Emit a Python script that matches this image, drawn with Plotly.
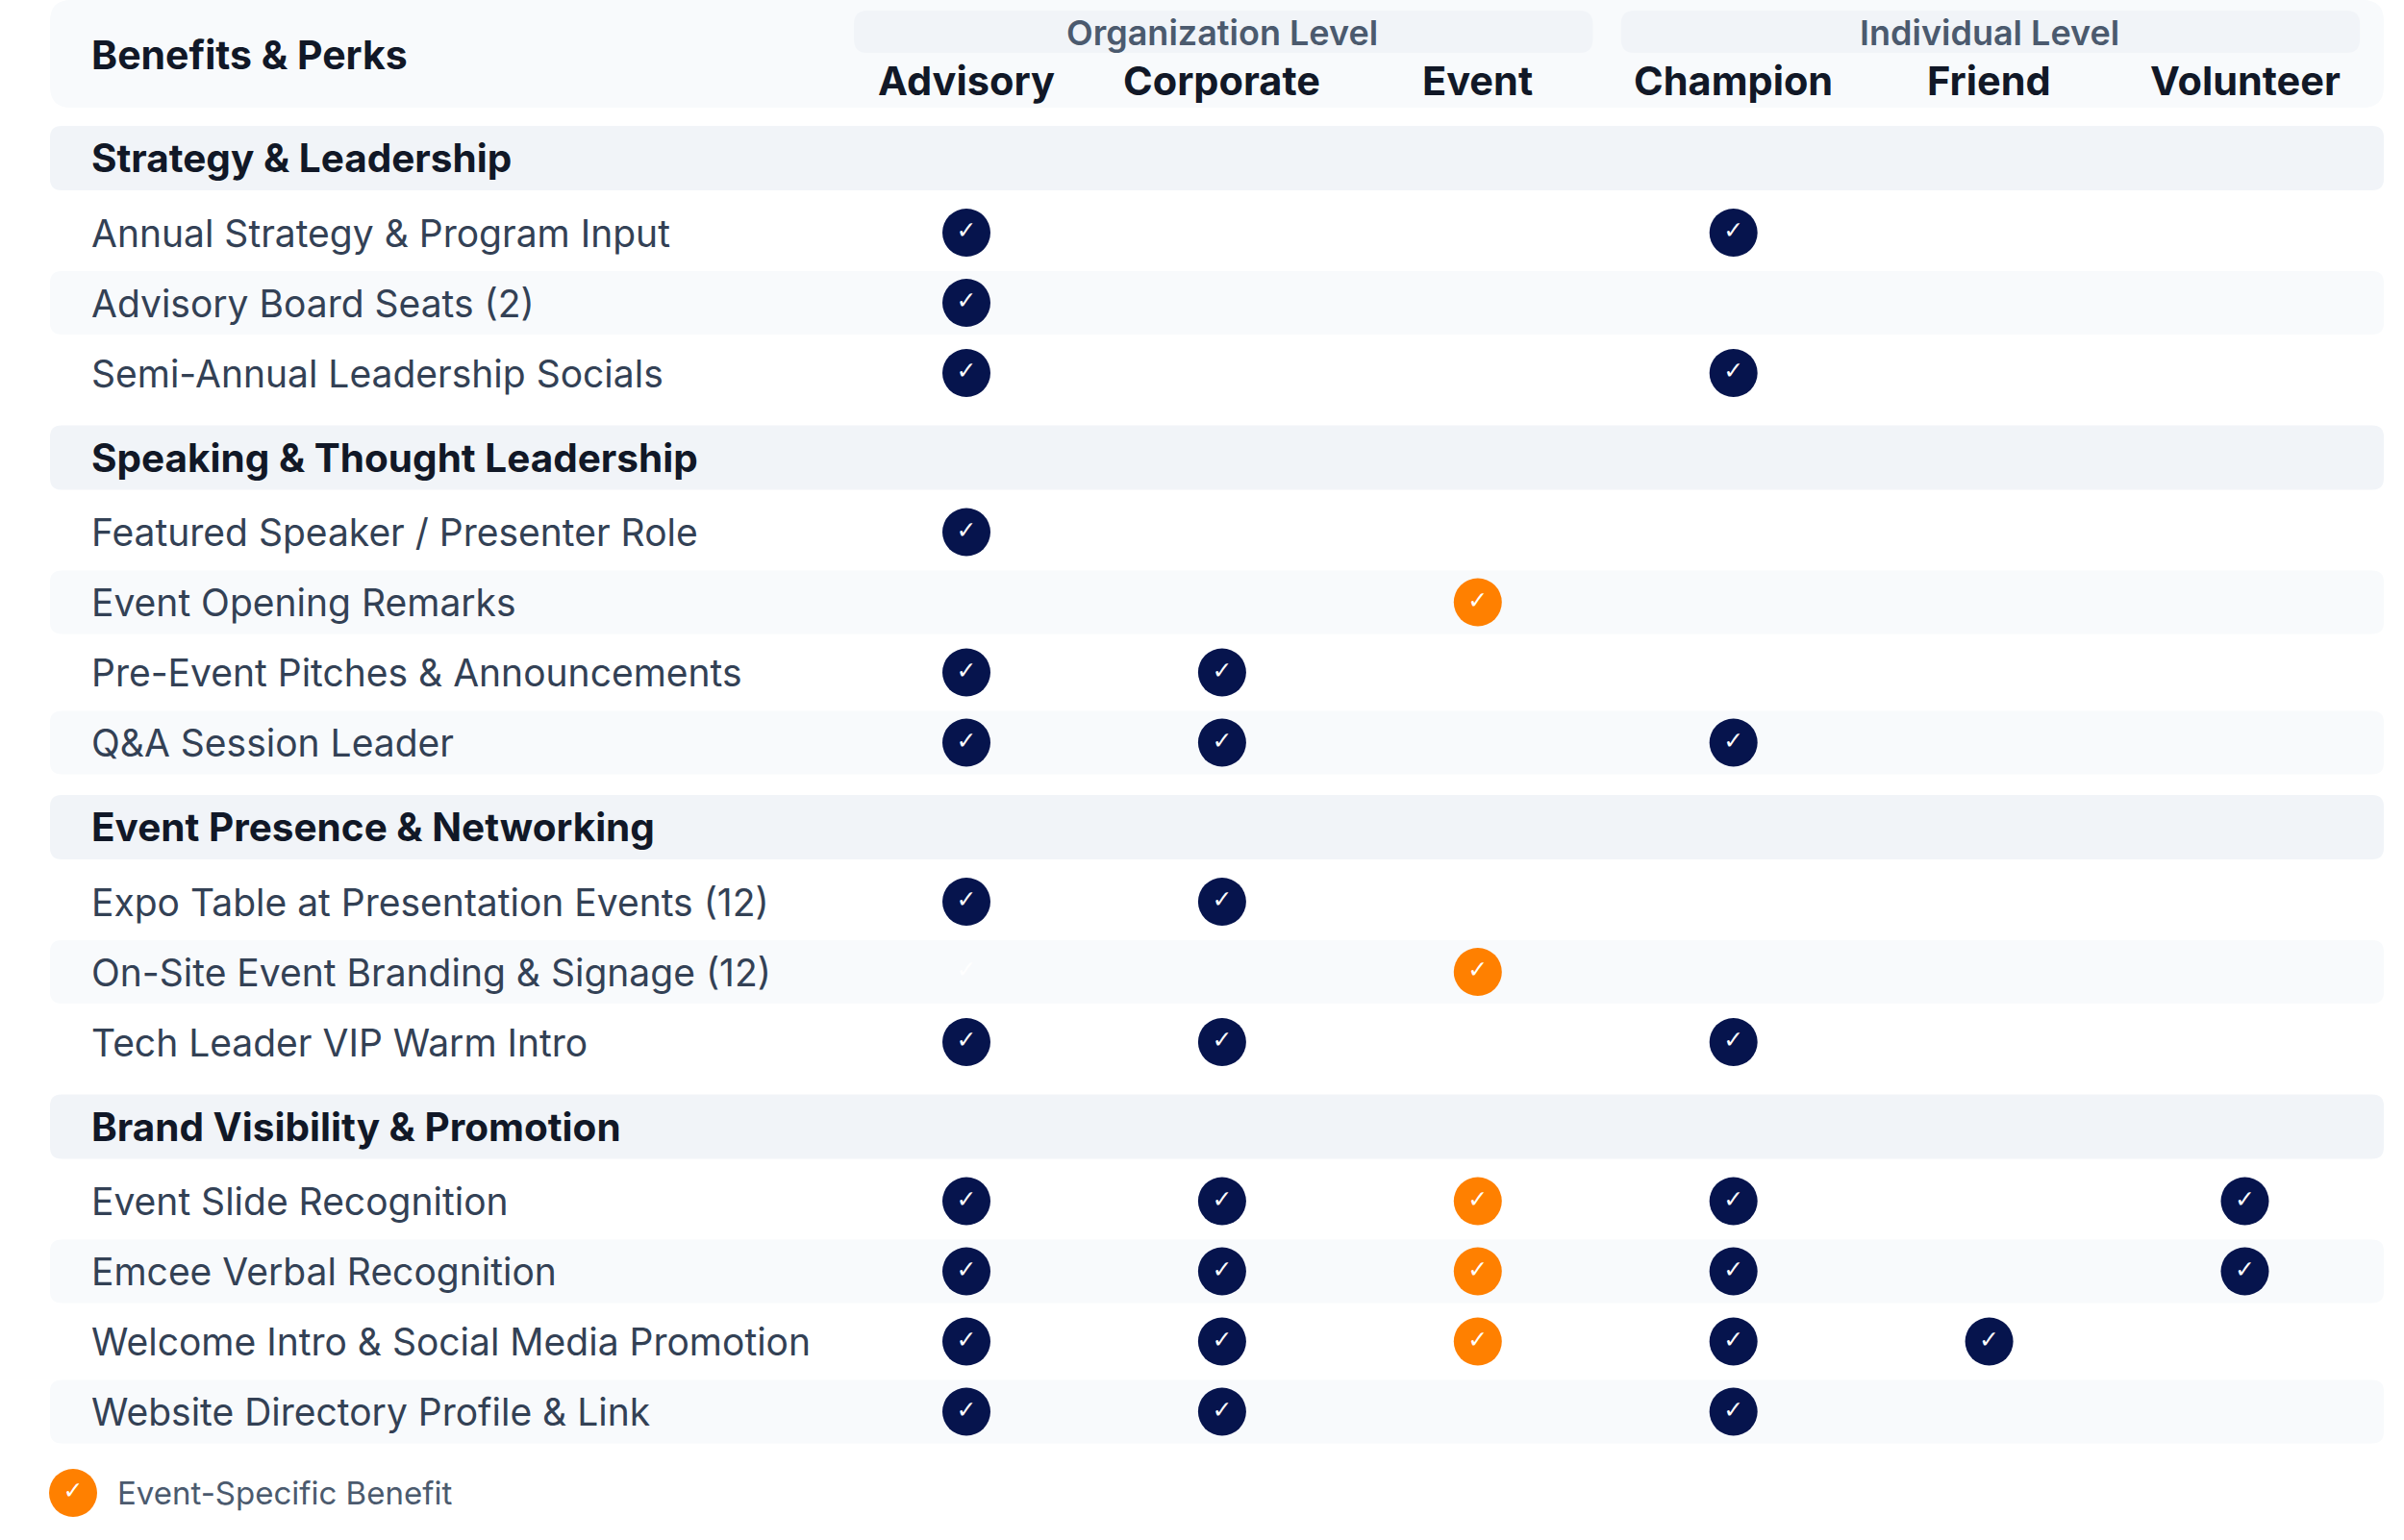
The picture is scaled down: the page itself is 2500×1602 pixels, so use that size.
import plotly.graph_objects as go

# ---------------- data ----------------
tiers = ["Advisory", "Corporate", "Event", "Champion", "Friend", "Volunteer"]
group_names = ["Organization Level", "Individual Level"]
group_first = [0, 3]
group_last = [2, 5]

sections = [
    "Strategy & Leadership",
    "Speaking & Thought Leadership",
    "Event Presence & Networking",
    "Brand Visibility & Promotion",
]
benefits_strategy = [
    "Annual Strategy & Program Input",
    "Advisory Board Seats (2)",
    "Semi-Annual Leadership Socials",
]
benefits_speaking = [
    "Featured Speaker / Presenter Role",
    "Event Opening Remarks",
    "Pre-Event Pitches & Announcements",
    "Q&A Session Leader",
]
benefits_presence = [
    "Expo Table at Presentation Events (12)",
    "On-Site Event Branding & Signage (12)",
    "Tech Leader VIP Warm Intro",
]
benefits_brand = [
    "Event Slide Recognition",
    "Emcee Verbal Recognition",
    "Welcome Intro & Social Media Promotion",
    "Website Directory Profile & Link",
]
# 0 = none, 1 = included, 2 = event-specific, 3 = faint mark
marks_strategy = [
    [1, 0, 0, 1, 0, 0],
    [1, 0, 0, 0, 0, 0],
    [1, 0, 0, 1, 0, 0],
]
marks_speaking = [
    [1, 0, 0, 0, 0, 0],
    [0, 0, 2, 0, 0, 0],
    [1, 1, 0, 0, 0, 0],
    [1, 1, 0, 1, 0, 0],
]
marks_presence = [
    [1, 1, 0, 0, 0, 0],
    [3, 0, 2, 0, 0, 0],
    [1, 1, 0, 1, 0, 0],
]
marks_brand = [
    [1, 1, 2, 1, 0, 1],
    [1, 1, 2, 1, 0, 1],
    [1, 1, 2, 1, 1, 0],
    [1, 1, 0, 1, 0, 0],
]
header_title = "Benefits & Perks"
legend_label = "Event-Specific Benefit"

section_benefits = [benefits_strategy, benefits_speaking, benefits_presence, benefits_brand]
section_marks = [marks_strategy, marks_speaking, marks_presence, marks_brand]

# ---------------- style / layout ----------------
W, H = 2500, 1602
FONT = "Inter"
NAVY = "#06144d"
ORANGE = "#ff8000"
DARK = "#111827"
BODY = "#334155"
MUTED = "#4b5a6e"
BAND_SECTION = "#f1f4f8"
BAND_ROW = "#f8fafc"
COL0_PX, COL_STEP_PX = 1005.0, 265.9
LEFT, RIGHT, TEXT_X = 52, 2479, 93
SEC_TOP = 164.5
SEC_TO_ITEM, ITEM_STEP, ITEM_TO_SEC = 77.5, 73.0, 88.0

def rrect(x0, x1, y0, y1, rx, ry):
    return (f"M {x0+rx},{y0} L {x1-rx},{y0} Q {x1},{y0} {x1},{y0+ry} "
            f"L {x1},{y1-ry} Q {x1},{y1} {x1-rx},{y1} L {x0+rx},{y1} "
            f"Q {x0},{y1} {x0},{y1-ry} L {x0},{y0+ry} Q {x0},{y0} {x0+rx},{y0} Z")

shapes, annotations = [], []

# header box
shapes.append(dict(type="path", xref="x", yref="y", path=rrect(LEFT, RIGHT, 0, 112, 22, 22),
                   fillcolor=BAND_ROW, line=dict(width=0), layer="below"))
annotations.append(dict(x=TEXT_X, y=57, xref="x", yref="y", text=header_title, showarrow=False,
                        xanchor="left", yanchor="middle",
                        font=dict(family=FONT, size=41, color=DARK, weight=700)))
# group boxes
for g, name in enumerate(group_names):
    a, b = group_first[g] - 0.44, group_last[g] + 0.45
    rx = 14 / COL_STEP_PX
    shapes.append(dict(type="path", xref="x2", yref="y", path=rrect(a, b, 11, 55, rx, 14),
                       fillcolor=BAND_SECTION, line=dict(width=0), layer="below"))
    annotations.append(dict(x=(group_first[g] + group_last[g]) / 2, y=34, xref="x2", yref="y",
                            text=name, showarrow=False, xanchor="center", yanchor="middle",
                            font=dict(family=FONT, size=36, color=MUTED, weight=600)))
for i, t in enumerate(tiers):
    annotations.append(dict(x=i, y=84, xref="x2", yref="y", text=t, showarrow=False,
                            xanchor="center", yanchor="middle",
                            font=dict(family=FONT, size=41.5, color=DARK, weight=700)))

# rows
mx = {1: [], 2: [], 3: []}
my = {1: [], 2: [], 3: []}
y = SEC_TOP
for s, sec in enumerate(sections):
    shapes.append(dict(type="path", xref="x", yref="y",
                       path=rrect(LEFT, RIGHT, y - 33.5, y + 33.5, 12, 12),
                       fillcolor=BAND_SECTION, line=dict(width=0), layer="below"))
    annotations.append(dict(x=TEXT_X, y=y, xref="x", yref="y", text=sec, showarrow=False,
                            xanchor="left", yanchor="middle",
                            font=dict(family=FONT, size=40.5, color=DARK, weight=700)))
    y += SEC_TO_ITEM
    for r, (label, marks) in enumerate(zip(section_benefits[s], section_marks[s])):
        if r % 2 == 1:
            shapes.append(dict(type="path", xref="x", yref="y",
                               path=rrect(LEFT, RIGHT, y - 33, y + 33, 12, 12),
                               fillcolor=BAND_ROW, line=dict(width=0), layer="below"))
        annotations.append(dict(x=TEXT_X, y=y, xref="x", yref="y", text=label, showarrow=False,
                                xanchor="left", yanchor="middle",
                                font=dict(family=FONT, size=39, color=BODY)))
        for c, v in enumerate(marks):
            if v:
                mx[v].append(c)
                my[v].append(y)
        y += ITEM_STEP
    y += ITEM_TO_SEC - ITEM_STEP

fig = go.Figure()
for v, color in [(1, NAVY), (2, ORANGE)]:
    fig.add_trace(go.Scatter(x=mx[v], y=my[v], xaxis="x2", yaxis="y", mode="markers+text",
                             text=["✓"] * len(mx[v]), textposition="middle center",
                             textfont=dict(family="DejaVu Sans", size=25, color="white"),
                             marker=dict(size=50, color=color, line=dict(width=0)),
                             hoverinfo="skip", showlegend=False))
fig.add_trace(go.Scatter(x=mx[3], y=my[3], xaxis="x2", yaxis="y", mode="text",
                         text=["✓"] * len(mx[3]), textposition="middle center",
                         textfont=dict(family="DejaVu Sans", size=25, color="white"),
                         hoverinfo="skip", showlegend=False))

# legend
LEG_Y = 1553
fig.add_trace(go.Scatter(x=[76], y=[LEG_Y], xaxis="x", yaxis="y", mode="markers+text",
                         text=["✓"], textposition="middle center",
                         textfont=dict(family="DejaVu Sans", size=25, color="white"),
                         marker=dict(size=50, color=ORANGE, line=dict(width=0)),
                         hoverinfo="skip", showlegend=False))
annotations.append(dict(x=120, y=LEG_Y, xref="x", yref="y", text=legend_label, showarrow=False,
                        xanchor="left", yanchor="middle",
                        font=dict(family=FONT, size=33, color=MUTED)))

fig.update_layout(
    width=W, height=H, autosize=False,
    margin=dict(l=0, r=0, t=0, b=0),
    paper_bgcolor="white", plot_bgcolor="white",
    xaxis=dict(range=[0, W], visible=False, fixedrange=True),
    xaxis2=dict(range=[-COL0_PX / COL_STEP_PX, (W - COL0_PX) / COL_STEP_PX],
                overlaying="x", visible=False, fixedrange=True),
    yaxis=dict(range=[H, 0], visible=False, fixedrange=True),
    shapes=shapes, annotations=annotations, showlegend=False,
)
fig.write_html("out.html", config={"displayModeBar": False},
               post_script="document.body.style.margin='0';document.body.style.overflow='hidden';")
